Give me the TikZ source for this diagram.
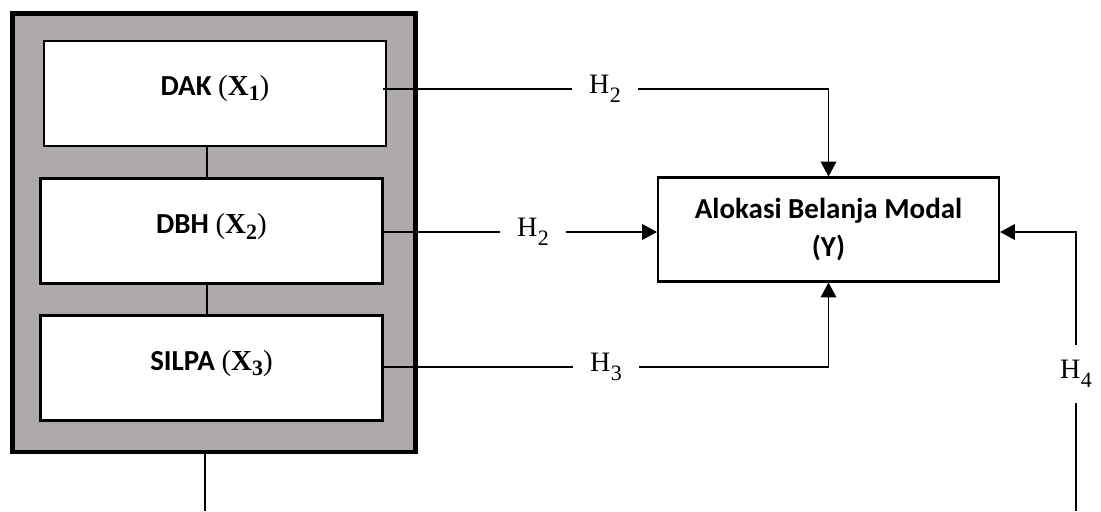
\documentclass[tikz,border=0pt]{standalone}
\usepackage{amsmath}
\usepackage{fontspec}
\setsansfont{Carlito}
\newfontfamily\hypfont{Liberation Serif}
\usetikzlibrary{arrows.meta}
\usetikzlibrary{positioning}
\definecolor{boxgray}{RGB}{174,170,170}
\newcommand{\hyplab}[1]{H\kern0.3pt\raisebox{-5pt}{\fontsize{12.5}{14}\selectfont #1}}
\newcommand{\varlab}[1]{{\hypfont\mdseries(\textbf{X}\raisebox{-3pt}{\fontsize{12.5}{14}\selectfont\bfseries #1})}}
\tikzset{
	varbox/.style={draw, line width=1.2pt, fill=white, minimum width=6.84cm, minimum height=2.1cm},
	boxtext/.style={font=\fontsize{16.5}{19}\selectfont\sffamily\bfseries, inner sep=0pt},
	hyp/.style={font=\fontsize{16}{18}\selectfont\hypfont, inner sep=0.33cm},
}
\begin{document}
\begin{tikzpicture}[x=0.02cm, y=-0.02cm, >={Triangle[length=8.5pt,width=9pt]}, line width=0.6pt]
		\useasboundingbox (0,0) rectangle (1101,511);
		% kelompok variabel bebas
		\node[draw, line width=2.8pt, fill=boxgray, minimum width=8.06cm, minimum height=8.78cm] (grp) at (214,232.5) {};
		\node[varbox] (dak) at (215,93.5) {};
		\node[varbox] (dbh) at (211.5,231) {};
		\node[varbox] (silpa) at (211.5,368) {};
		\node[boxtext] (dakT) at ([yshift=0.1cm]dak.center) {DAK \varlab{1}};
		\node[boxtext] (dbhT) at ([yshift=0.08cm]dbh.center) {DBH \varlab{2}};
		\node[boxtext] (silpaT) at ([yshift=0.09cm]silpa.center) {SILPA \varlab{3}};
		\draw ([xshift=-0.09cm]dbh.north) -- ([xshift=-0.09cm]dbh.north |- dak.south);
		\draw ([xshift=-0.09cm]silpa.north) -- ([xshift=-0.09cm]silpa.north |- dbh.south);
		% variabel terikat
		\node[draw, line width=1.2pt, align=center, minimum width=6.82cm, minimum height=2.08cm,
			font=\fontsize{16.5}{22}\selectfont\sffamily\bfseries] (y) at (828.5,229.5) {Alokasi Belanja Modal\\(Y)};
		% hipotesis
		\node[hyp] (h1) at (605,89) {\hyplab{2}};
		\node[hyp] (h2) at (533,232) {\hyplab{2}};
		\node[hyp] (h3) at (606,367) {\hyplab{3}};
		\node[hyp, inner ysep=0.3cm] (h4) at (1076,374) {\hyplab{4}};
		\coordinate (lb) at (205,511);
		\coordinate (rb) at (1076,511);
		\draw ([xshift=-0.08cm]h1 -| dak.east) -- (h1);
		\draw[->] (h1) -| (y.north);
		\draw (h2 -| dbh.east) -- (h2);
		\draw[->] (h2) -- (h2 -| y.west);
		\draw (h3 -| silpa.east) -- (h3);
		\draw[->] (h3) -| (y.south);
		\draw (grp.south -| lb) -- (lb);
		\draw (rb) -- (h4);
		\draw[->] (h4) |- (h2 -| y.east);
	\end{tikzpicture}
\end{document}
